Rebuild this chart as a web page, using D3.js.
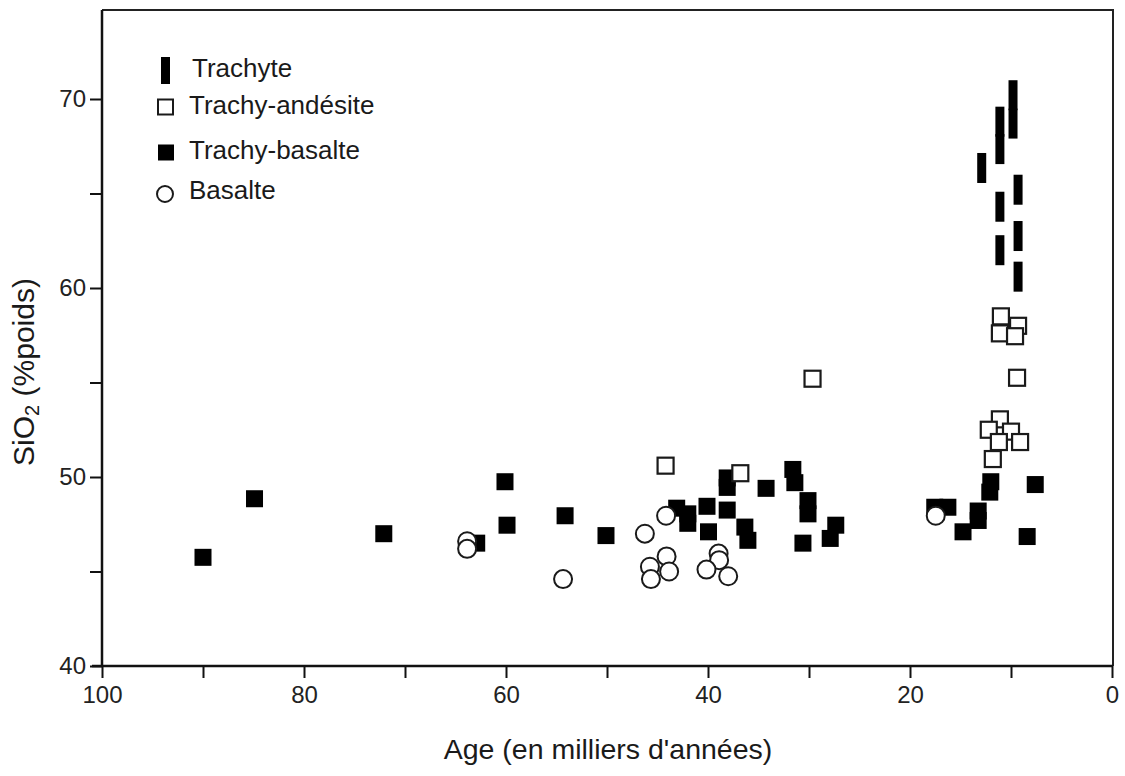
<!DOCTYPE html>
<html>
<head>
<meta charset="utf-8">
<script src="https://cdn.jsdelivr.net/npm/d3@7"></script>
<style>
  html, body { margin: 0; padding: 0; background: #fff; }
  svg text { font-family: "Liberation Sans", Arial, Helvetica, sans-serif; fill: #1a1a1a; }
</style>
</head>
<body>
<svg id="chart" width="1125" height="776"></svg>
<script>
// ---- Data (age in thousands of years, SiO2 wt%) ----
const trachyteAge = [9.8, 9.8, 11.1, 11.1, 12.9, 9.3, 11.1, 9.3, 11.1, 9.3];
const trachyteSi  = [70.2, 68.7, 68.8, 67.35, 66.35, 65.2, 64.3, 62.75, 62.0, 60.6];

const trachyAndesiteAge = [44.2, 36.8, 29.65, 11.0, 9.3, 11.1, 9.6, 9.4, 11.1, 12.2, 10.0, 9.1, 11.2, 11.8];
const trachyAndesiteSi  = [50.6, 50.2, 55.2, 58.5, 58.0, 57.6, 57.45, 55.25, 53.05, 52.5, 52.4, 51.85, 51.85, 50.95];

const trachyBasalteAge = [90.0, 84.9, 72.1, 62.9, 60.1, 59.9, 54.15, 50.1, 43.1, 42.0, 42.0, 40.1, 39.95,
  38.1, 38.1, 38.1, 36.35, 36.05, 34.25, 31.6, 31.4, 30.1, 30.1, 30.6, 27.35, 27.9,
  17.55, 16.25, 13.25, 13.25, 14.75, 12.0, 12.1, 7.6, 8.4];
const trachyBasalteSi  = [45.75, 48.85, 47.0, 46.5, 49.75, 47.45, 47.95, 46.9, 48.35, 48.05, 47.55, 48.45, 47.1,
  49.95, 49.45, 48.25, 47.35, 46.65, 49.4, 50.4, 49.7, 48.75, 48.05, 46.5, 47.45, 46.75,
  48.4, 48.4, 48.2, 47.7, 47.1, 49.75, 49.2, 49.6, 46.85];

const basalteAge = [63.85, 63.85, 54.35, 46.25, 44.15, 45.75, 45.65, 44.1, 43.85, 38.95, 38.9, 40.15, 38.0, 17.45];
const basalteSi  = [46.6, 46.2, 44.6, 47.0, 47.95, 45.25, 44.6, 45.8, 45.0, 45.95, 45.6, 45.1, 44.75, 47.95];

const xTicks = [100, 90, 80, 70, 60, 50, 40, 30, 20, 10, 0];
const xTickLabels = ["100", "", "80", "", "60", "", "40", "", "20", "", "0"];
const yTicks = [40, 45, 50, 55, 60, 65, 70];
const yTickLabels = ["40", "", "50", "", "60", "", "70"];

const legendLabels = ["Trachyte", "Trachy-andésite", "Trachy-basalte", "Basalte"];
const xTitle = "Age (en milliers d'années)";

// ---- Layout ----
const svg = d3.select("#chart");
const pL = 102, pR = 1113, pT = 10, pB = 666;
const x = d3.scaleLinear().domain([100, 0]).range([pL, pR - 1]);
const y = d3.scaleLinear().domain([40, 40 + (pB - pT) / 18.9]).range([pB, pT]);

const zip = (a, b) => a.map((v, i) => ({ age: v, si: b[i] }));

// frame (top & right)
svg.append("path")
  .attr("d", `M${pL},${pT}H${pR}V${pB}`)
  .attr("fill", "none").attr("stroke", "#222").attr("stroke-width", 2);

// axes
const xAxis = d3.axisBottom(x).tickValues(xTicks).tickSize(12).tickPadding(6)
  .tickFormat((d, i) => xTickLabels[i]);
const gx = svg.append("g").attr("transform", `translate(0,${pB})`).call(xAxis);
gx.select(".domain").attr("stroke", "#111").attr("stroke-width", 2.5)
  .attr("d", `M${pL - 10},0H${pR}`);
gx.selectAll(".tick line").attr("stroke", "#111").attr("stroke-width", 2);
gx.selectAll(".tick text").attr("font-size", 24).style("fill", "#222")
  .attr("font-family", "Liberation Sans, Arial, sans-serif").attr("dy", "0.8em");

const yAxis = d3.axisLeft(y).tickValues(yTicks).tickSize(12).tickPadding(4)
  .tickFormat((d, i) => yTickLabels[i]);
const gy = svg.append("g").attr("transform", `translate(${pL},0)`).call(yAxis);
gy.select(".domain").attr("stroke", "#111").attr("stroke-width", 2.5)
  .attr("d", `M0,${pB}V${pT}`);
gy.selectAll(".tick line").attr("stroke", "#111").attr("stroke-width", 2);
gy.selectAll(".tick text").attr("font-size", 24).style("fill", "#222")
  .attr("font-family", "Liberation Sans, Arial, sans-serif");

// axis titles
svg.append("text").attr("x", 608).attr("y", 751).attr("text-anchor", "middle")
  .attr("dominant-baseline", "middle").attr("font-size", 28.5).text(xTitle);

const yt = svg.append("text")
  .attr("transform", "translate(26,372) rotate(-90)")
  .attr("text-anchor", "middle").attr("dominant-baseline", "middle").attr("font-size", 30);
yt.append("tspan").text("SiO");
yt.append("tspan").attr("font-size", 20).attr("dy", 8).text("2");
yt.append("tspan").attr("dy", -8).text(" (%poids)");

// ---- Marks ----
const plot = svg.append("g");
const sq = 17, osq = 18, r = 9, barW = 9, barH = 30;

plot.selectAll("rect.tb").data(zip(trachyBasalteAge, trachyBasalteSi)).join("rect")
  .attr("class", "tb")
  .attr("x", d => x(d.age) - sq / 2).attr("y", d => y(d.si) - sq / 2)
  .attr("width", sq).attr("height", sq).attr("fill", "#000");

plot.selectAll("rect.ta").data(zip(trachyAndesiteAge, trachyAndesiteSi)).join("rect")
  .attr("class", "ta")
  .attr("x", d => x(d.age) - osq / 2 + 1).attr("y", d => y(d.si) - osq / 2 + 1)
  .attr("width", osq - 2).attr("height", osq - 2)
  .attr("fill", "#fff").attr("stroke", "#1a1a1a").attr("stroke-width", 2.2);

plot.selectAll("circle.ba").data(zip(basalteAge, basalteSi)).join("circle")
  .attr("class", "ba")
  .attr("cx", d => x(d.age)).attr("cy", d => y(d.si)).attr("r", r)
  .attr("fill", "#fff").attr("stroke", "#1a1a1a").attr("stroke-width", 2);

plot.selectAll("rect.tr").data(zip(trachyteAge, trachyteSi)).join("rect")
  .attr("class", "tr")
  .attr("x", d => x(d.age) - barW / 2).attr("y", d => y(d.si) - barH / 2)
  .attr("width", barW).attr("height", barH).attr("fill", "#000");

// ---- Legend ----
const lg = svg.append("g");
const legY = [70, 107, 152, 192];
lg.append("rect").attr("x", 161).attr("y", legY[0] - 13).attr("width", 9).attr("height", 27).attr("fill", "#000");
lg.append("rect").attr("x", 158).attr("y", legY[1] - 7.5).attr("width", 15).attr("height", 15)
  .attr("fill", "#fff").attr("stroke", "#1a1a1a").attr("stroke-width", 2);
lg.append("rect").attr("x", 158).attr("y", legY[2] - 7.5).attr("width", 16).attr("height", 16).attr("fill", "#000");
lg.append("circle").attr("cx", 165).attr("cy", legY[3] + 2).attr("r", 8)
  .attr("fill", "#fff").attr("stroke", "#1a1a1a").attr("stroke-width", 2);
lg.selectAll("text.leg").data(legendLabels).join("text")
  .attr("class", "leg")
  .attr("x", (d, i) => i === 0 ? 192 : 189).attr("y", (d, i) => legY[i])
  .attr("dominant-baseline", "middle").attr("font-size", 26).text(d => d);
</script>
</body>
</html>
